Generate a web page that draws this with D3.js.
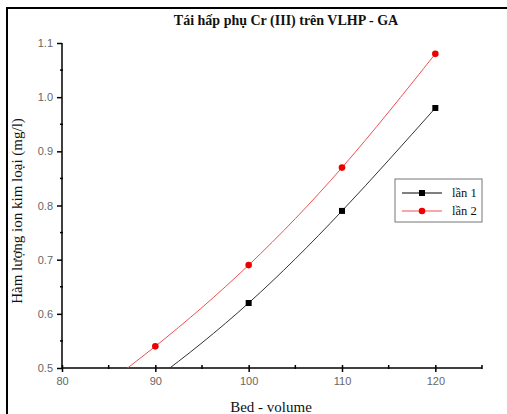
<!DOCTYPE html>
<html>
<head>
  <meta charset="utf-8">
  <script src="https://cdn.jsdelivr.net/npm/d3@7"></script>
  <style>
    body { margin: 0; background: #fff; }
    .tick-label { font-family: "Liberation Sans", Arial, sans-serif; font-size: 11px; fill: #666; }
    .serif { font-family: "Liberation Serif", "Times New Roman", serif; fill: #111; }
  </style>
</head>
<body>
  <script>
    // data
    var bedVolume = [80, 90, 100, 110, 120];
    var lan1 = [0.36, 0.48, 0.62, 0.79, 0.98];
    var lan2 = [0.41, 0.54, 0.69, 0.87, 1.08];
    var seriesNames = ['lần 1', 'lần 2'];
    var xTicks = [80, 90, 100, 110, 120];
    var yTicks = [0.5, 0.6, 0.7, 0.8, 0.9, 1.0, 1.1];

    var W = 507, H = 414;
    var svg = d3.select('body').append('svg').attr('width', W).attr('height', H);

    // outer frame
    svg.append('rect').attr('x', 7).attr('y', 8).attr('width', 520).attr('height', 430)
      .attr('fill', 'none').attr('stroke', '#000').attr('stroke-width', 2);

    var x = d3.scaleLinear().domain([80, 125]).range([62, 482]);
    var y = d3.scaleLinear().domain([0.5, 1.1]).range([368, 43]);

    svg.append('defs').append('clipPath').attr('id', 'plot')
      .append('rect').attr('x', 62).attr('y', 30).attr('width', 430).attr('height', 338);

    // axes
    var xAxis = svg.append('g').attr('transform', 'translate(0,368)')
      .call(d3.axisBottom(x).tickValues(xTicks).tickSize(4).tickFormat(d3.format('d')));
    var yAxis = svg.append('g').attr('transform', 'translate(62,0)')
      .call(d3.axisLeft(y).tickValues(yTicks).tickSize(5).tickFormat(d3.format('.1f')));
    [xAxis, yAxis].forEach(function (a) {
      a.select('.domain').attr('stroke', '#000').attr('stroke-width', 1.5);
      a.selectAll('.tick line').attr('stroke', '#000').attr('stroke-width', 1.5);
      a.selectAll('.tick text').attr('class', 'tick-label').attr('fill', null);
    });
    xAxis.select('.domain').attr('d', 'M62,0H482');
    yAxis.select('.domain').attr('d', 'M0,368V43');
    xAxis.selectAll('.tick line').attr('y1', -3);
    xAxis.selectAll('.tick text').attr('dy', '0.95em').attr('y', 7);
    yAxis.selectAll('.tick text').attr('x', -9);
    // minor ticks
    xAxis.selectAll('.minor').data([85, 95, 105, 115, 125]).enter().append('line')
      .attr('x1', d => x(d)).attr('x2', d => x(d)).attr('y1', -3).attr('y2', 1)
      .attr('stroke', '#000').attr('stroke-width', 1.5);
    yAxis.selectAll('.minor').data([0.55, 0.65, 0.75, 0.85, 0.95, 1.05]).enter().append('line')
      .attr('y1', d => y(d)).attr('y2', d => y(d)).attr('x1', -2).attr('x2', 1)
      .attr('stroke', '#000').attr('stroke-width', 1.5);

    var line = d3.line().x(d => x(d[0])).y(d => y(d[1])).curve(d3.curveNatural);
    var pts1 = bedVolume.map((v, i) => [v, lan1[i]]);
    var pts2 = bedVolume.map((v, i) => [v, lan2[i]]);

    var plot = svg.append('g').attr('clip-path', 'url(#plot)');
    plot.append('path').datum(pts1).attr('d', line).attr('fill', 'none')
      .attr('stroke', '#333').attr('stroke-width', 1);
    plot.append('path').datum(pts2).attr('d', line).attr('fill', 'none')
      .attr('stroke', '#f05050').attr('stroke-width', 1);

    var inRange = d => d[1] >= 0.5;
    plot.selectAll('.sq').data(pts1.filter(inRange)).enter().append('rect')
      .attr('x', d => x(d[0]) - 3).attr('y', d => y(d[1]) - 3)
      .attr('width', 6).attr('height', 6).attr('fill', '#000');
    plot.selectAll('.ci').data(pts2.filter(inRange)).enter().append('circle')
      .attr('cx', d => x(d[0])).attr('cy', d => y(d[1])).attr('r', 3.3).attr('fill', '#e00');

    // title and axis labels
    svg.append('text').attr('class', 'serif').attr('x', 286).attr('y', 25)
      .attr('text-anchor', 'middle').style('font-size', '14px').style('font-weight', 'bold')
      .text('Tái hấp phụ Cr (III) trên VLHP - GA');
    svg.append('text').attr('class', 'serif').attr('x', 271).attr('y', 412)
      .attr('text-anchor', 'middle').style('font-size', '15px')
      .text('Bed - volume');
    svg.append('text').attr('class', 'serif')
      .attr('transform', 'translate(22,211) rotate(-90)')
      .attr('text-anchor', 'middle').style('font-size', '15px')
      .text('Hàm lượng ion kim loại (mg/l)');

    // legend
    var lg = svg.append('g');
    lg.append('rect').attr('x', 395).attr('y', 179).attr('width', 87).attr('height', 43)
      .attr('fill', '#fff').attr('stroke', '#777').attr('stroke-width', 1);
    [0, 1].forEach(function (i) {
      var ly = 193 + i * 18;
      lg.append('line').attr('x1', 402).attr('x2', 442).attr('y1', ly).attr('y2', ly)
        .attr('stroke', i ? '#f05050' : '#000').attr('stroke-width', 1);
      if (i === 0) {
        lg.append('rect').attr('x', 419).attr('y', ly - 3).attr('width', 6).attr('height', 6).attr('fill', '#000');
      } else {
        lg.append('circle').attr('cx', 422).attr('cy', ly).attr('r', 3.3).attr('fill', '#e00');
      }
      lg.append('text').attr('class', 'serif').attr('x', 452).attr('y', ly + 4)
        .style('font-size', '12.5px').text(seriesNames[i]);
    });
  </script>
</body>
</html>
